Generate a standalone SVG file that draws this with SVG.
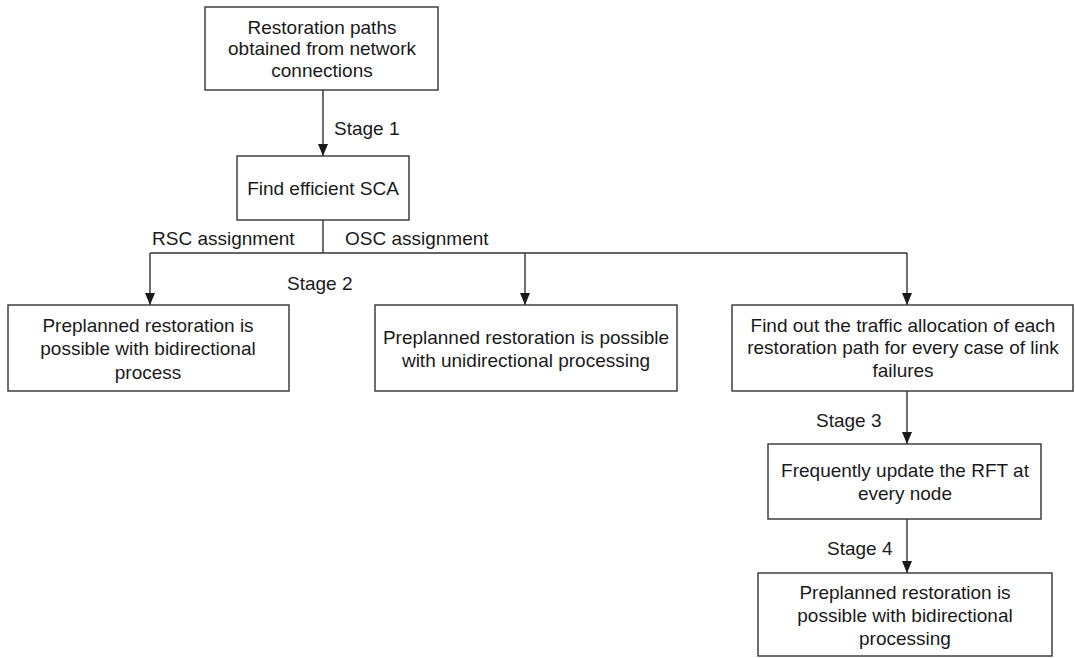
<svg xmlns="http://www.w3.org/2000/svg" width="1075" height="658" viewBox="0 0 1075 658">
<style>
.box{fill:#fff;stroke:#333;stroke-width:1.4}
.t{font-family:"Liberation Sans",Arial,sans-serif;font-size:19px;fill:#1a1a1a;text-anchor:middle;dominant-baseline:central}
.l{font-family:"Liberation Sans",Arial,sans-serif;font-size:19px;fill:#1a1a1a;dominant-baseline:central}
.c{fill:none;stroke:#333;stroke-width:1.4}
</style>
<defs>
<marker id="ah" viewBox="0 0 12 10" refX="12" refY="5" markerWidth="12" markerHeight="10" markerUnits="userSpaceOnUse" orient="auto">
<path d="M0,0 L12,5 L0,10 Z" fill="#1a1a1a"/>
</marker>
</defs>
<rect width="1075" height="658" fill="#fff"/>
<g id="connectors">
<path class="c" d="M323,90 V156" marker-end="url(#ah)"/>
<path class="c" d="M323,220 V253"/>
<path class="c" d="M150,253 H907"/>
<path class="c" d="M150,253 V305" marker-end="url(#ah)"/>
<path class="c" d="M525,253 V305" marker-end="url(#ah)"/>
<path class="c" d="M907,253 V305" marker-end="url(#ah)"/>
<path class="c" d="M907,391 V444" marker-end="url(#ah)"/>
<path class="c" d="M907,519 V573" marker-end="url(#ah)"/>
<text class="l" x="334" y="128">Stage 1</text>
<text class="l" x="152" y="238">RSC assignment</text>
<text class="l" x="345" y="238">OSC assignment</text>
<text class="l" x="287" y="283">Stage 2</text>
<text class="l" x="816" y="420">Stage 3</text>
<text class="l" x="827" y="548">Stage 4</text>
</g>
<g id="n1">
<rect class="box" x="205" y="7" width="233" height="83"/>
<text class="t" x="322" y="27">Restoration paths</text>
<text class="t" x="322" y="48">obtained from network</text>
<text class="t" x="322" y="70">connections</text>
</g>
<g id="n2">
<rect class="box" x="237" y="156" width="172" height="64"/>
<text class="t" x="323" y="188">Find efficient SCA</text>
</g>
<g id="n3">
<rect class="box" x="8" y="305" width="281" height="86"/>
<text class="t" x="148" y="325">Preplanned restoration is</text>
<text class="t" x="148" y="348">possible with bidirectional</text>
<text class="t" x="148" y="372">process</text>
</g>
<g id="n4">
<rect class="box" x="375" y="305" width="302" height="86"/>
<text class="t" x="526" y="337">Preplanned restoration is possible</text>
<text class="t" x="526" y="360">with unidirectional processing</text>
</g>
<g id="n5">
<rect class="box" x="732" y="305" width="341" height="86"/>
<text class="t" x="903" y="325">Find out the traffic allocation of each</text>
<text class="t" x="903" y="347">restoration path for every case of link</text>
<text class="t" x="903" y="370">failures</text>
</g>
<g id="n6">
<rect class="box" x="768" y="444" width="273" height="75"/>
<text class="t" x="905" y="470">Frequently update the RFT at</text>
<text class="t" x="905" y="493">every node</text>
</g>
<g id="n7">
<rect class="box" x="758" y="573" width="294" height="83"/>
<text class="t" x="905" y="592">Preplanned restoration is</text>
<text class="t" x="905" y="615">possible with bidirectional</text>
<text class="t" x="905" y="638">processing</text>
</g>
</svg>
